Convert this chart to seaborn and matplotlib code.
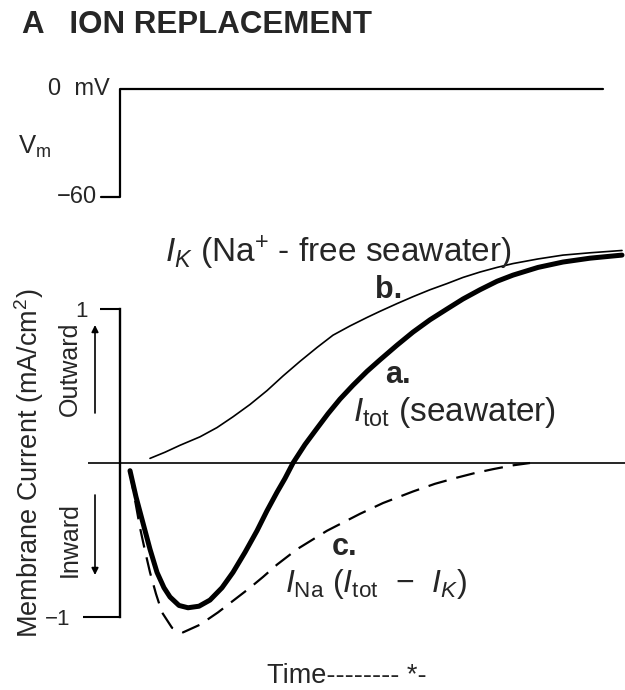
import numpy as np
import pandas as pd
import matplotlib
matplotlib.use("Agg")
import matplotlib.pyplot as plt
import seaborn as sns

# ---------------- data (time in ms, current in mA/cm^2, voltage in mV) ----------------
t_tot = [0.10, 0.16, 0.23, 0.30, 0.37, 0.44, 0.50, 0.59, 0.68, 0.79, 0.90, 1.02, 1.13,
         1.25, 1.37, 1.47, 1.57, 1.65, 1.73, 1.85, 1.97, 2.08, 2.20, 2.33, 2.47, 2.60,
         2.77, 2.93, 3.10, 3.27, 3.43, 3.60, 3.77, 3.93, 4.18, 4.43, 4.70, 5.02]
i_tot = [-0.05, -0.22, -0.39, -0.56, -0.71, -0.81, -0.87, -0.925, -0.94, -0.93, -0.89, -0.81, -0.71,
         -0.58, -0.44, -0.31, -0.19, -0.10, 0.00, 0.12, 0.225, 0.32, 0.415, 0.505, 0.595, 0.67,
         0.765, 0.85, 0.93, 1.00, 1.065, 1.125, 1.18, 1.22, 1.27, 1.305, 1.33, 1.35]

t_k = [0.30, 0.45, 0.60, 0.80, 0.97, 1.13, 1.30, 1.47, 1.63, 1.80, 1.97, 2.13, 2.30, 2.47,
       2.60, 2.77, 2.93, 3.10, 3.27, 3.43, 3.60, 3.77, 3.93, 4.18, 4.43, 4.70, 5.02]
i_k = [0.03, 0.07, 0.115, 0.17, 0.23, 0.30, 0.38, 0.47, 0.565, 0.66, 0.75, 0.83, 0.89, 0.945,
       0.985, 1.035, 1.08, 1.125, 1.165, 1.205, 1.24, 1.27, 1.295, 1.325, 1.35, 1.365, 1.38]

t_na = [0.10, 0.15, 0.20, 0.25, 0.30, 0.36, 0.42, 0.52, 0.63, 0.80, 0.98, 1.14, 1.30, 1.43,
        1.57, 1.77, 2.07, 2.40, 2.63, 2.93, 3.15, 3.37, 3.55, 3.73, 3.93, 4.10]
i_na = [-0.06, -0.24, -0.42, -0.57, -0.71, -0.85, -0.97, -1.07, -1.10, -1.05, -0.97, -0.89, -0.81, -0.74,
        -0.66, -0.56, -0.44, -0.33, -0.26, -0.185, -0.135, -0.095, -0.065, -0.04, -0.015, 0.00]

v_time = [-0.19, 0.0, 0.0, 4.83]
v_mV = [-60, -60, 0, 0]

current_ticks = [1]
current_ticklabels = ["1"]
current_minor_ticks = [-1]
current_minor_labels = ["\u22121"]

zero_line_span = (-0.32, 5.05)
time_limits = (-1.2, 5.05)

# ---------------- style ----------------
sns.set_theme(style="white")
plt.rcParams["font.family"] = ["Liberation Sans", "DejaVu Sans"]
plt.rcParams["mathtext.fontset"] = "custom"
plt.rcParams["mathtext.rm"] = "Liberation Sans"
plt.rcParams["mathtext.it"] = "Liberation Sans:italic"
plt.rcParams["mathtext.bf"] = "Liberation Sans:bold"

W, H = 625, 690
fig = plt.figure(figsize=(W / 100, H / 100), dpi=100)
fig.patch.set_facecolor("white")

def fx(px):
    return px / W

def fy(py):
    return 1 - py / H

# current axes: pixel y 230..650
ax = fig.add_axes([0, fy(650), 1, (650 - 230) / H])
ax.set_facecolor("none")
ax.set_xlim(*time_limits)
ax.set_ylim((463 - 650) / 154, (463 - 230) / 154)

# voltage axes: pixel y 60..215
axv = fig.add_axes([0, fy(215), 1, (215 - 60) / H])
axv.set_facecolor("none")
axv.set_xlim(*time_limits)
axv.set_ylim((89 - 215) / 1.8, (89 - 60) / 1.8)

for a in (ax, axv):
    for s in a.spines.values():
        s.set_visible(False)
    a.set_xticks([])
    a.set_yticks([])
    a.grid(False)

# ---------------- voltage step ----------------
sns.lineplot(x=v_time, y=v_mV, ax=axv, sort=False, estimator=None,
             color="black", lw=1.6)
axv.text(-0.10, 0, "0  mV", ha="right", va="center", fontsize=17)
axv.text(-0.23, -60, "\u221260", ha="right", va="center", fontsize=17)
fig.text(fx(18), fy(147), r"V$_{\rm m}$", ha="left", va="center", fontsize=18.5)

# ---------------- current axis ----------------
ax.spines["left"].set_visible(True)
ax.spines["left"].set_position(("data", 0))
ax.spines["left"].set_bounds(-1, 1)
ax.spines["left"].set_linewidth(1.7)
ax.spines["left"].set_color("black")
ax.set_yticks(current_ticks, labels=current_ticklabels)
ax.set_yticks(current_minor_ticks, labels=current_minor_labels, minor=True)
ax.tick_params(axis="y", which="major", left=True, length=14.4, width=1.5,
               pad=8.6, labelsize=16, color="black", direction="out")
ax.tick_params(axis="y", which="minor", left=True, length=27, width=1.5,
               pad=8.6, labelsize=16, color="black", direction="out")

ax.hlines(0, *zero_line_span, color="black", lw=1.2)

# curves
sns.lineplot(x=t_k, y=i_k, ax=ax, sort=False, estimator=None, color="black", lw=1.2)
sns.lineplot(x=t_tot, y=i_tot, ax=ax, sort=False, estimator=None, color="black", lw=3.6)
sns.lineplot(x=t_na, y=i_na, ax=ax, sort=False, estimator=None, color="black", lw=1.6)
ax.get_lines()[-1].set_dashes([8.5, 4.5])

# curve labels
ax.text(0.45, (463 - 262) / 154, r"$I_K$ (Na$^{+}$ - free seawater)", fontsize=24,
        ha="left", va="baseline")
ax.text(2.55, (463 - 298) / 154, "b.", fontsize=22, fontweight="bold",
        ha="left", va="baseline")
ax.text(2.65, (463 - 383) / 154, "a.", fontsize=22, fontweight="bold",
        ha="left", va="baseline")
ax.text(2.33, (463 - 421) / 154, r"$I_{\rm tot}$ (seawater)", fontsize=24,
        ha="left", va="baseline")
ax.text(2.12, (463 - 555) / 154, "c.", fontsize=22, fontweight="bold",
        ha="left", va="baseline")
ax.text(1.65, (463 - 592) / 154, r"$I_{\rm Na}$ ($I_{\rm tot}$  $-$  $I_K$)", fontsize=23,
        ha="left", va="baseline")

# direction arrows
ax.annotate("", xy=(-0.25, (463 - 325) / 154), xytext=(-0.25, (463 - 413) / 154),
            arrowprops=dict(arrowstyle="-|>", color="black", lw=1.2,
                            mutation_scale=10, shrinkA=0, shrinkB=0))
ax.annotate("", xy=(-0.25, (463 - 575) / 154), xytext=(-0.25, (463 - 495) / 154),
            arrowprops=dict(arrowstyle="-|>", color="black", lw=1.2,
                            mutation_scale=10, shrinkA=0, shrinkB=0))

fig.text(fx(70), fy(369), "Outward", rotation=90, ha="center", va="center", fontsize=18)
fig.text(fx(70), fy(540), "Inward", rotation=90, ha="center", va="center", fontsize=18)
fig.text(fx(29), fy(463), "Membrane Current (mA/cm$^{2}$)", rotation=90,
         ha="center", va="center", fontsize=19.5)

# title and time label
fig.text(fx(22), fy(33), "A   ION REPLACEMENT", fontsize=22.5, fontweight="bold",
         ha="left", va="baseline")
fig.text(fx(267), fy(683), "Time-------- *-", fontsize=19.5, ha="left", va="baseline")

fig.savefig("out.png", dpi=100, facecolor="white")
